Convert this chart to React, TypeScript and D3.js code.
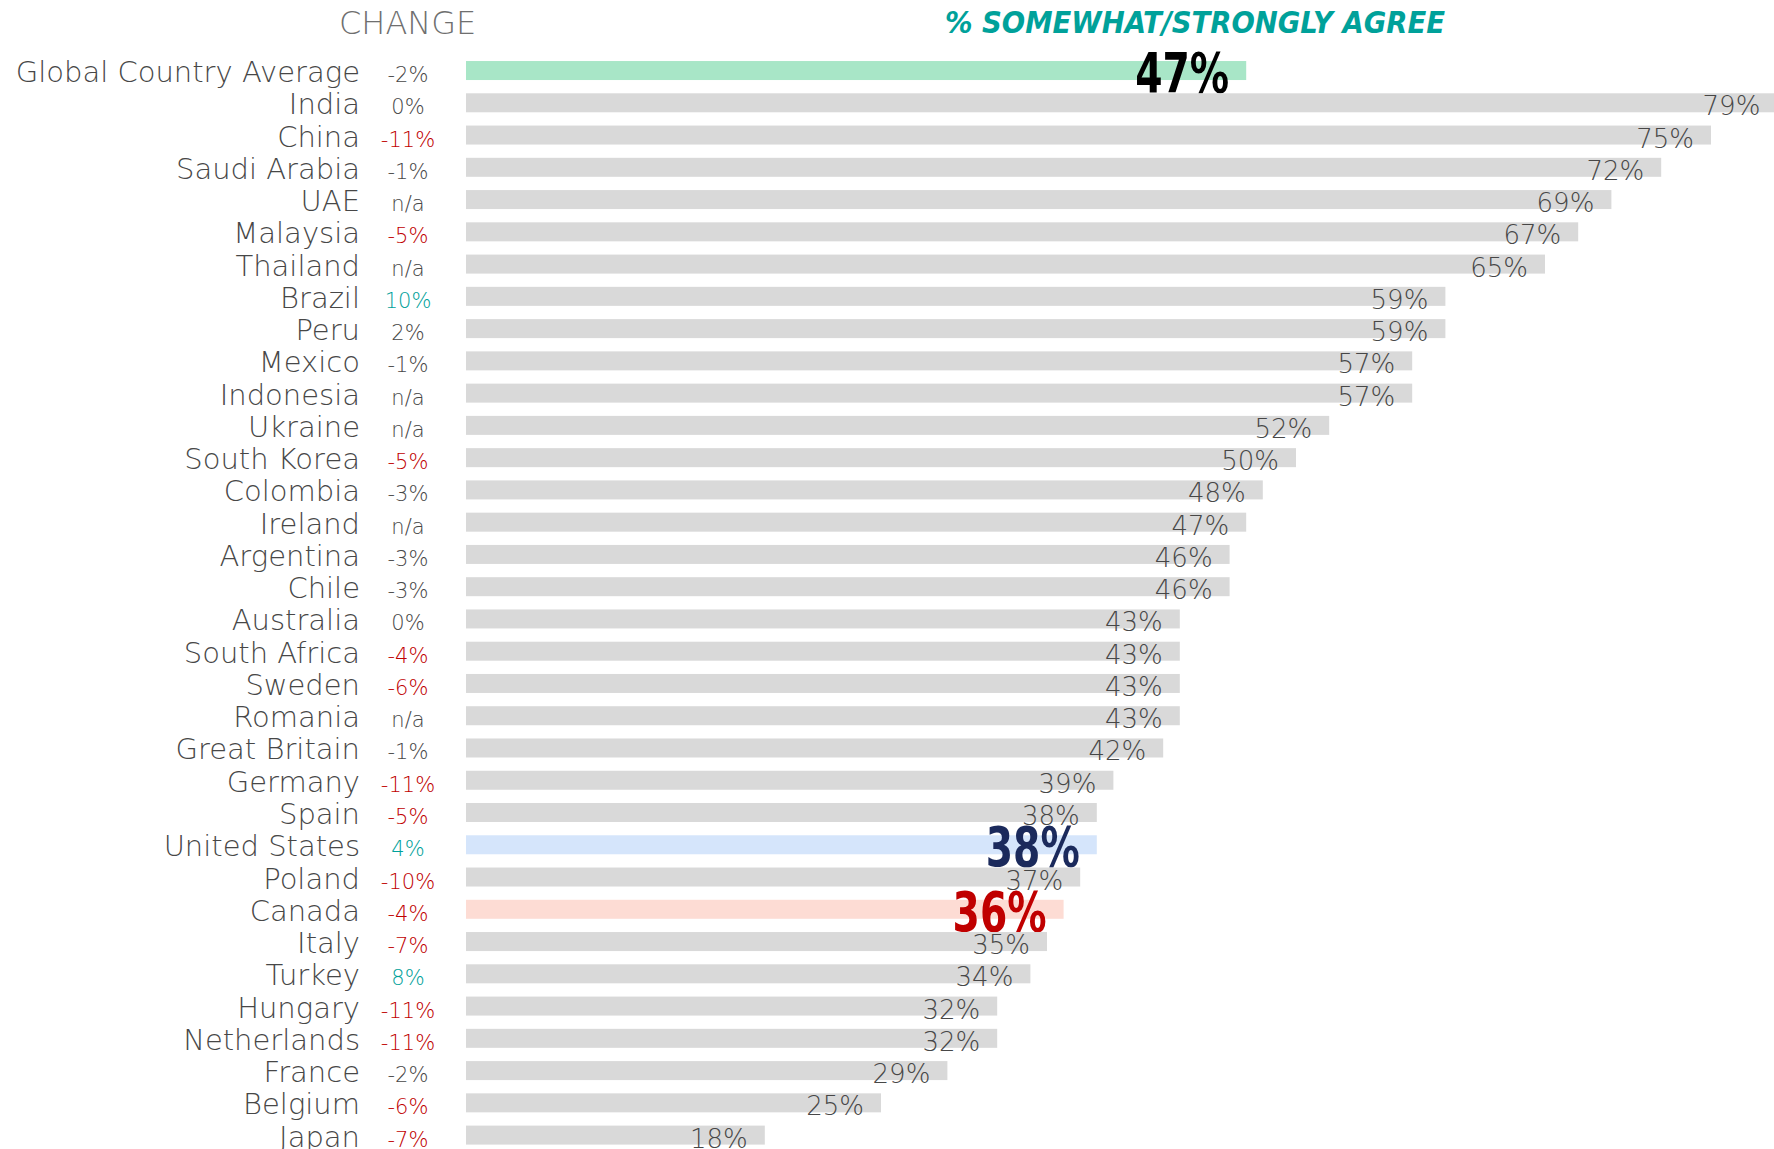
import React from "react";
import * as d3 from "d3";

// data
const countries = [
  "Global Country Average", "India", "China", "Saudi Arabia", "UAE", "Malaysia",
  "Thailand", "Brazil", "Peru", "Mexico", "Indonesia", "Ukraine", "South Korea",
  "Colombia", "Ireland", "Argentina", "Chile", "Australia", "South Africa",
  "Sweden", "Romania", "Great Britain", "Germany", "Spain", "United States",
  "Poland", "Canada", "Italy", "Turkey", "Hungary", "Netherlands", "France",
  "Belgium", "Japan",
];
const agree = [
  47, 79, 75, 72, 69, 67, 65, 59, 59, 57, 57, 52, 50, 48, 47, 46, 46, 43, 43,
  43, 43, 42, 39, 38, 38, 37, 36, 35, 34, 32, 32, 29, 25, 18,
];
const change = [
  "-2%", "0%", "-11%", "-1%", "n/a", "-5%", "n/a", "10%", "2%", "-1%", "n/a",
  "n/a", "-5%", "-3%", "n/a", "-3%", "-3%", "0%", "-4%", "-6%", "n/a", "-1%",
  "-11%", "-5%", "4%", "-10%", "-4%", "-7%", "8%", "-11%", "-11%", "-2%", "-6%",
  "-7%",
];
const highlights = {
  "Global Country Average": { bar: "#a8e6c7", text: "#000000" },
  "United States": { bar: "#d5e5fb", text: "#1b2a5c" },
  Canada: { bar: "#fddcd4", text: "#c00000" },
};

const W = 1774;
const H = 1149;
const thin = "'DejaVu Sans', sans-serif";
const narrow = "'Liberation Sans Narrow', 'DejaVu Sans Condensed', sans-serif";
const grey = "#474747";

const changeColor = (c: string) => {
  const v = parseFloat(c);
  if (isNaN(v)) return grey;
  if (v <= -4) return "#c00000";
  if (v >= 4) return "#00a19a";
  return grey;
};

export default function App() {
  const x = d3.scaleLinear().domain([0, 100]).range([466, 2126]);
  const y = d3
    .scaleBand()
    .domain(countries)
    .range([54.4, 54.4 + countries.length * 32.26])
    .paddingInner(0.411)
    .paddingOuter(0.2055);
  const bw = y.bandwidth();

  return (
    <svg
      width={W}
      height={H}
      style={{ position: "absolute", left: 0, top: 0, background: "#fff" }}
    >
      <text x={339} y={34} fontFamily={thin} fontWeight={200} fontSize={32} fill="#6f6f6f">
        CHANGE
      </text>
      <text
        x={945}
        y={33}
        fontFamily={narrow}
        fontWeight="bold"
        fontStyle="italic"
        fontSize={31}
        fill="#00a19a"
        textLength={500}
        lengthAdjust="spacingAndGlyphs"
      >
        % SOMEWHAT/STRONGLY AGREE
      </text>

      {countries.map((c, i) => {
        const top = y(c)!;
        const bottom = top + bw;
        const hl = highlights[c];
        const end = x(agree[i]);
        return (
          <g key={c}>
            <rect
              x={x(0)}
              y={top}
              width={end - x(0)}
              height={bw}
              fill={hl ? hl.bar : "#d9d9d9"}
            />
            <text
              x={360}
              y={bottom + 2}
              textAnchor="end"
              fontFamily={thin}
              fontWeight={200}
              fontSize={29}
              fill={grey}
            >
              {c}
            </text>
            <text
              x={408}
              y={bottom + 2}
              textAnchor="middle"
              fontFamily={thin}
              fontWeight={200}
              fontSize={21}
              fill={changeColor(change[i])}
            >
              {change[i]}
            </text>
            {hl ? (
              <text
                x={end - 17}
                y={bottom + 12}
                textAnchor="end"
                fontFamily={narrow}
                fontWeight="bold"
                fontSize={56}
                fill={hl.text}
                textLength={94}
                lengthAdjust="spacingAndGlyphs"
              >
                {agree[i]}%
              </text>
            ) : (
              <text
                x={end - 17}
                y={bottom + 3}
                textAnchor="end"
                fontFamily={thin}
                fontWeight={200}
                fontSize={26}
                fill={grey}
              >
                {agree[i]}%
              </text>
            )}
          </g>
        );
      })}
    </svg>
  );
}
